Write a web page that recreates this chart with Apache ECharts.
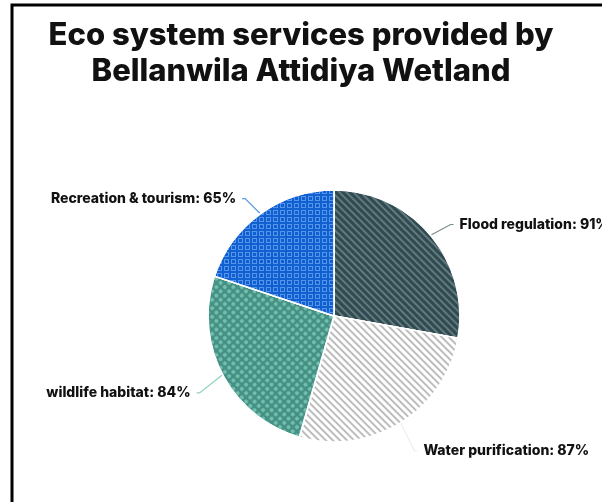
<!DOCTYPE html>
<html><head><meta charset="utf-8">
<script src="https://cdn.jsdelivr.net/npm/echarts@6/dist/echarts.min.js"></script>
<style>html,body{margin:0;padding:0;background:#fff}#c{width:602px;height:502px}</style>
</head><body><div id="c"></div>
<script>
const titleLines = ["Eco system services provided by", "Bellanwila Attidiya Wetland"];
const categories = ["Flood regulation", "Water purification", "wildlife habitat", "Recreation & tourism"];
const values = [91, 87, 84, 65];
const baseColors = ["#2f4b51", "#ffffff", "#468f84", "#1160d2"];
const patternColors = ["#62797d", "#bdbdbd", "#72c2ae", "#5695ea"];
const lineColors = ["#7b8b8e", "#ededed", "#8fd0c2", "#5a98e6"];

const ring = 'path://M0 0H10V10H0Z M2 2V8H8V2H2Z';
const decals = [
  {symbol:'rect', symbolSize:1, dashArrayX:[1,0], dashArrayY:[2,2.2], rotation:Math.PI/4, color:patternColors[0]},
  {symbol:'rect', symbolSize:1, dashArrayX:[1,0], dashArrayY:[2,3], rotation:Math.PI/4, color:patternColors[1]},
  {symbol:'circle', symbolSize:1, dashArrayX:[4,1.2], dashArrayY:[4,1.2], rotation:Math.PI/4, color:patternColors[2]},
  {symbol:ring, symbolSize:1, dashArrayX:[5,2], dashArrayY:[5,2], color:patternColors[3]}
];

const chart = echarts.init(document.getElementById('c'), null, {renderer:'canvas'});
chart.setOption({
  animation:false,
  backgroundColor:'#fff',
  graphic:[{type:'rect', shape:{x:12,y:5,width:640,height:540}, style:{fill:null, stroke:'#000', lineWidth:3}, silent:true}],
  title:{
    text: titleLines.join('\n'), left:'center', top:13,
    textStyle:{fontFamily:'Inter', fontWeight:800, fontSize:31, lineHeight:36, color:'#111'}
  },
  series:[{
    type:'pie', center:[334,316], radius:126, startAngle:90, clockwise:true,
    itemStyle:{borderColor:'#fff', borderWidth:1.5},
    label:{show:true, position:'outside', formatter:'{b}: {c}%', fontFamily:'Inter', fontWeight:800, fontSize:14, color:'#111',
      distanceToLabelLine:6, overflow:'none', edgeDistance:0},
    labelLine:{show:true, length:26, length2:3, smooth:false, lineStyle:{width:1.2}},
    labelLayout:function(params){
      const pts = params.labelLinePoints;
      if (!pts) return {dy:6};
      const p = pts.map(function(q){ return [q[0], q[1]]; });
      for (let k = 1; k < p.length; k++) p[k][1] += 6;
      return {dy:6, labelLinePoints:p};
    },
    emphasis:{disabled:true},
    data: categories.map((n,i)=>({name:n, value:values[i],
      itemStyle:{color:baseColors[i], decal:decals[i]},
      labelLine:{lineStyle:{color:lineColors[i]}}}))
  }]
});
</script></body></html>
